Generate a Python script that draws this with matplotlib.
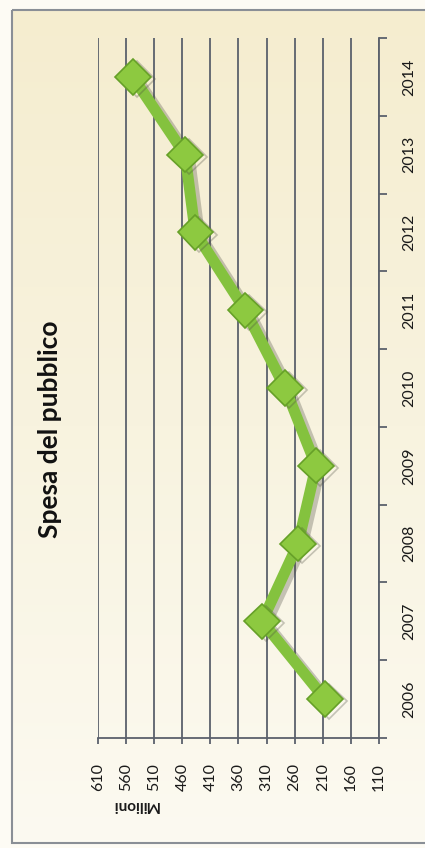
import matplotlib
matplotlib.use("Agg")
import matplotlib.pyplot as plt
import matplotlib.patheffects as pe
import numpy as np
from matplotlib.patches import Rectangle
from matplotlib.colors import LinearSegmentedColormap

years = ["2006", "2007", "2008", "2009", "2010", "2011", "2012", "2013", "2014"]
spesa = [206, 318, 254, 222, 277, 348, 437, 455, 548]
value_ticks = [110, 160, 210, 260, 310, 360, 410, 460, 510, 560, 610]
title = "Spesa del pubblico"
unit_label = "Milioni"

plt.rcParams['font.family'] = ['Lato', 'DejaVu Sans']

W, H = 425, 848
fig = plt.figure(figsize=(W / 100, H / 100), dpi=100)
fig.patch.set_facecolor("#fdfbf4")

# background panel with gradient
bg = fig.add_axes([0, 0, 1, 1], zorder=-10)
bg.set_xlim(0, W)
bg.set_ylim(H, 0)
bg.axis("off")
grad = np.linspace(0, 1, 256).reshape(-1, 1)
cmap = LinearSegmentedColormap.from_list("cream", ["#f5edcf", "#f8f3df", "#fcfaf1"])
bg.imshow(grad, aspect="auto", cmap=cmap, extent=[12, W, 843, 10], zorder=0)
bg.add_patch(Rectangle((12, 10), W + 5 - 12, 833, fill=False, edgecolor="#8a8f96", lw=1.5, zorder=1))

# main axes
ax = fig.add_axes([98 / W, 1 - 738 / H, (379 - 98) / W, (738 - 38) / H])
ax.patch.set_alpha(0)
ypos = np.arange(len(years))

ax.set_xlim(max(value_ticks), min(value_ticks))
ax.set_ylim(-0.5, len(years) - 0.5)

for v in value_ticks:
    ax.axvline(v, color="#5b616c", lw=1.3, zorder=1)

line, = ax.plot(spesa, ypos, color="#84c23e", lw=8, marker="D", markersize=18,
                markerfacecolor="#8dc940", markeredgecolor="#66a028", markeredgewidth=1.2,
                solid_joinstyle="round", zorder=3)
line.set_path_effects([pe.SimpleLineShadow(offset=(3, -1.5), shadow_color="#4a4a40", alpha=0.3),
                       pe.Normal()])

# spines
for s in ["top", "left"]:
    ax.spines[s].set_visible(False)
ax.spines["right"].set_color("#5b616c")
ax.spines["right"].set_linewidth(1.3)
ax.spines["bottom"].set_color("#5b616c")
ax.spines["bottom"].set_linewidth(1.3)

ax.set_xticks(value_ticks)
ax.set_xticklabels([str(v) for v in value_ticks], rotation=90, fontsize=11.5, color="#1a1a1a")
ax.tick_params(axis="x", length=4, width=1.3, color="#5b616c", pad=14)

ax.yaxis.tick_right()
ax.set_yticks(ypos)
ax.set_yticklabels(years, rotation=90, fontsize=11.5, color="#1a1a1a", va="center")
ax.set_yticks(np.arange(-0.5, len(years), 1.0), minor=True)
ax.tick_params(axis="y", which="major", length=0, pad=17)
ax.tick_params(axis="y", which="minor", length=6, width=1.3, color="#5b616c")

fig.text(135 / W, 1 - 805 / H, unit_label, rotation=180, fontsize=11, fontweight="bold",
         ha="center", va="center", color="#1a1a1a")
fig.text(50 / W, 1 - 429 / H, title, rotation=90, fontsize=19, fontweight="bold",
         ha="center", va="center", color="#111111")

fig.savefig("out.png", dpi=100, facecolor=fig.get_facecolor())
